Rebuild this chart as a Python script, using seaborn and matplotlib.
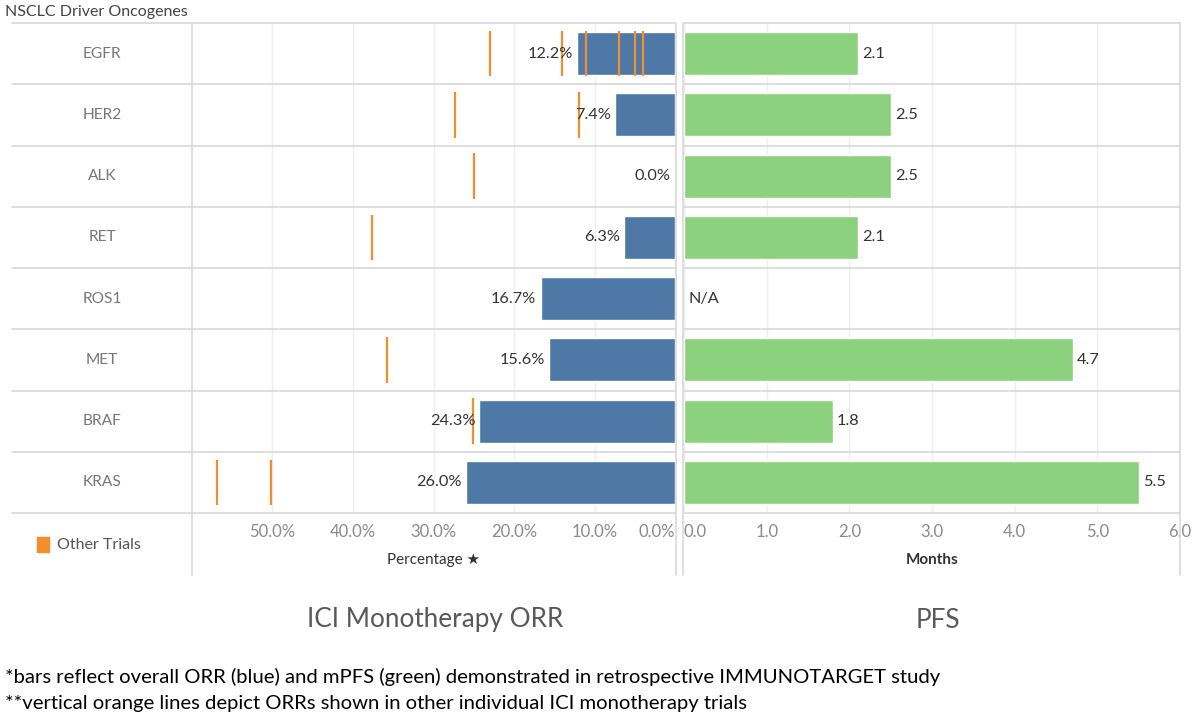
import numpy as np
import pandas as pd
import matplotlib
matplotlib.use("Agg")
import matplotlib.pyplot as plt
from matplotlib.lines import Line2D
from matplotlib.patches import Rectangle
import seaborn as sns

# data
genes = ['EGFR', 'HER2', 'ALK', 'RET', 'ROS1', 'MET', 'BRAF', 'KRAS']
orr = [12.2, 7.4, 0.0, 6.3, 16.7, 15.6, 24.3, 26.0]
pfs = [2.1, 2.5, 2.5, 2.1, np.nan, 4.7, 1.8, 5.5]

# orange lines: ORR from other individual ICI trials
other_gene = ['EGFR', 'EGFR', 'EGFR', 'EGFR', 'EGFR', 'EGFR',
              'HER2', 'HER2', 'ALK', 'RET', 'MET', 'BRAF', 'KRAS', 'KRAS']
other_orr = [23.0, 14.0, 11.0, 7.0, 5.0, 4.0,
             27.3, 11.9, 25.0, 37.6, 35.8, 25.1, 56.9, 50.2]

orr_ticks = [50, 40, 30, 20, 10, 0]
pfs_ticks = [0, 1, 2, 3, 4, 5, 6]

BLUE = '#4e79a7'
GREEN = '#8cd17d'
ORANGE = '#f28e2b'
ROWLINE = '#d9d9d9'
GRID = '#eeeeee'

df = pd.DataFrame({'gene': genes, 'orr': orr, 'pfs': pfs})
other = pd.DataFrame({'gene': other_gene, 'orr': other_orr})
other['pos'] = other['gene'].map({g: i for i, g in enumerate(genes)})

sns.set_style("white")
plt.rcParams['font.family'] = ['Lato', 'DejaVu Sans']

W, H = 1200, 721
fig = plt.figure(figsize=(12, 7.21), dpi=100)


def box(x0, x1, y0, y1):
    # pixel box (top-left origin) -> figure fraction rect
    return [x0 / W, 1 - y1 / H, (x1 - x0) / W, (y1 - y0) / H]


ax_lab = fig.add_axes(box(12, 192, 23, 513))
ax_orr = fig.add_axes(box(192, 675, 23, 513))
ax_pfs = fig.add_axes(box(684, 1180, 23, 513))

# ORR bars
sns.barplot(data=df, y='gene', x='orr', order=genes, color=BLUE, saturation=1,
            width=0.7, orient='h', ax=ax_orr, zorder=2)
ax_orr.vlines(other['orr'], other['pos'] - 0.37, other['pos'] + 0.37,
              color=ORANGE, lw=1.6, zorder=3)
ax_orr.set_xlim(60, 0)
ax_orr.set_xticks(orr_ticks)
ax_orr.set_xticklabels([f'{t:.1f}%' for t in orr_ticks])
ax_orr.get_xticklabels()[-1].set_ha('right')
for i, v in enumerate(orr):
    ax_orr.annotate(f'{v:.1f}%', (v, i), xytext=(-3, 0), textcoords='offset points',
                    ha='right', va='center', fontsize=11.7, color='#333333')

# PFS bars
sns.barplot(data=df, y='gene', x='pfs', order=genes, color=GREEN, saturation=1,
            width=0.7, orient='h', ax=ax_pfs, zorder=2)
ax_pfs.set_xlim(0, 6)
ax_pfs.set_xticks(pfs_ticks)
ax_pfs.set_xticklabels([f'{t:.1f}' for t in pfs_ticks])
ax_pfs.get_xticklabels()[0].set_ha('left')
for i, v in enumerate(pfs):
    txt = 'N/A' if np.isnan(v) else f'{v:.1f}'
    ax_pfs.annotate(txt, (0 if np.isnan(v) else v, i), xytext=(3, 0),
                    textcoords='offset points', ha='left', va='center',
                    fontsize=11.7, color='#333333')

# shared styling
for ax in (ax_lab, ax_orr, ax_pfs):
    ax.set_ylim(len(genes) - 0.5, -0.5)
    for k in range(len(genes) + 1):
        ax.axhline(k - 0.5, color=ROWLINE, lw=1.2, zorder=1, clip_on=False)
    for s in ax.spines.values():
        s.set_visible(False)
    ax.set_ylabel('')
    ax.set_yticks([])

for ax in (ax_orr, ax_pfs):
    ax.tick_params(axis='x', length=0, labelsize=12, labelcolor='#8a8a8a', pad=8)
    for t in ax.get_xticks():
        ax.axvline(t, color=GRID, lw=1, zorder=0)

ax_orr.set_xlabel('Percentage \u2605', fontsize=11, color='#333333', labelpad=9)
ax_pfs.set_xlabel('Months', fontsize=11, color='#333333', fontweight='bold', labelpad=9)

# category labels column
ax_lab.set_xlim(0, 1)
ax_lab.set_xticks([])
for i, g in enumerate(genes):
    ax_lab.text(0.5, i, g, ha='center', va='center', fontsize=11.2, color='#777777')

# panel separators reaching down through the axis area
for x in (192, 676, 683, 1180):
    fig.add_artist(Line2D([x / W, x / W], [1 - 23 / H, 1 - 575 / H],
                          color=ROWLINE, lw=1.2))

# legend
fig.add_artist(Rectangle((37 / W, 1 - 552 / H), 12 / W, 15 / H, color=ORANGE,
                         transform=fig.transFigure))
fig.text(57 / W, 1 - 545 / H, 'Other Trials', fontsize=11.5, color='#555555',
         va='center')

# titles and notes
fig.text(5 / W, 1 - 12 / H, 'NSCLC Driver Oncogenes', fontsize=11.5,
         color='#444444', va='center')
fig.text(435 / W, 1 - 620 / H, 'ICI Monotherapy ORR', fontsize=18.8,
         color='#595959', ha='center', va='center')
fig.text(938 / W, 1 - 620 / H, 'PFS', fontsize=18.8, color='#595959',
         ha='center', va='center')
fig.text(5 / W, 1 - 677 / H,
         '*bars reflect overall ORR (blue) and mPFS (green) demonstrated in '
         'retrospective IMMUNOTARGET study', fontsize=14.6, color='black', va='center')
fig.text(5 / W, 1 - 703 / H,
         '**vertical orange lines depict ORRs shown in other individual ICI '
         'monotherapy trials', fontsize=14.6, color='black', va='center')

fig.savefig('out.png', dpi=100)
